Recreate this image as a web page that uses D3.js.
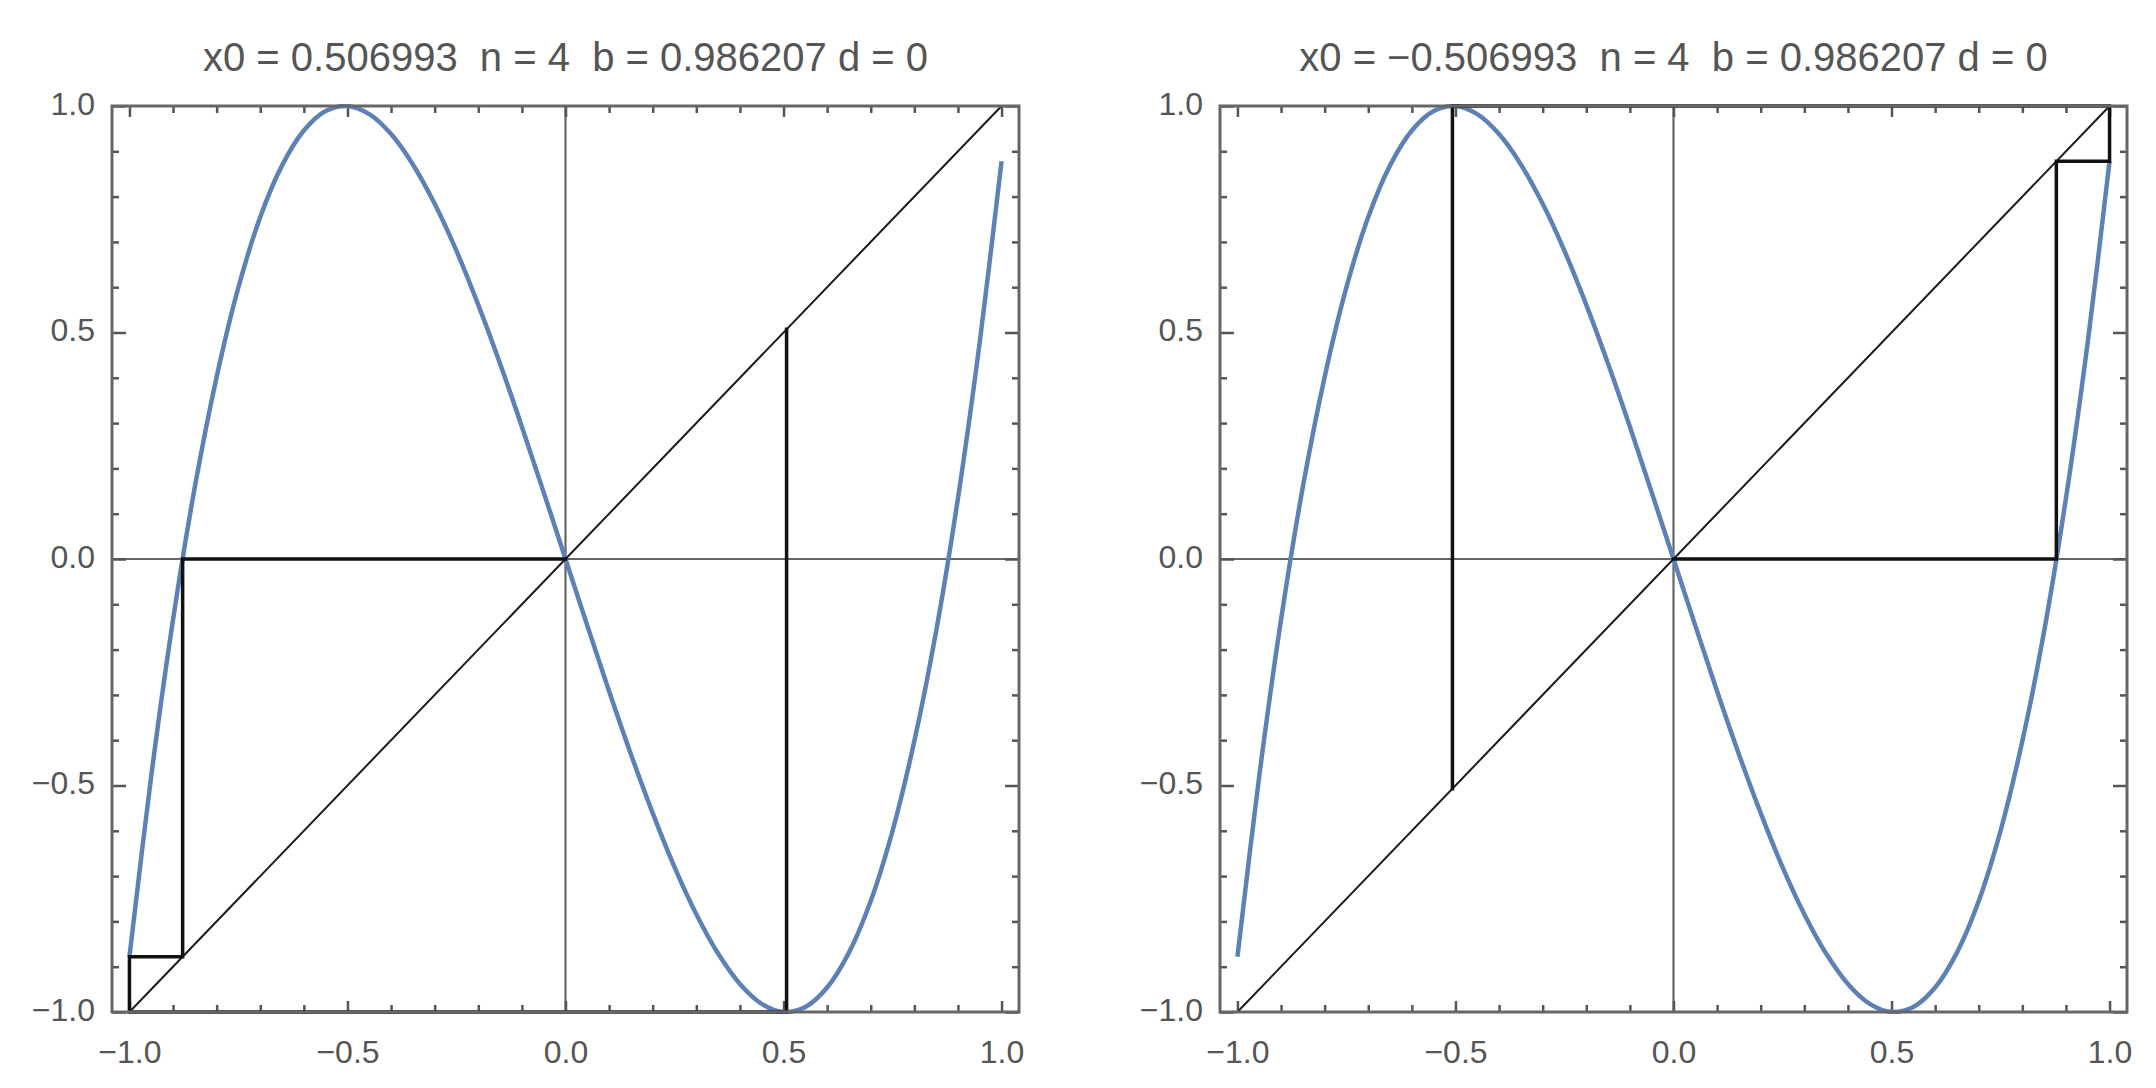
<!DOCTYPE html>
<html>
<head>
<meta charset="utf-8">
<script src="https://cdn.jsdelivr.net/npm/d3@7"></script>
<style>
  html, body { margin: 0; padding: 0; background: #fff; }
  svg { display: block; }
</style>
</head>
<body>
<svg id="chart" width="2156" height="1088"></svg>
<script>
// ---- data ----
const titles = [
  "x0 = 0.506993  n = 4  b = 0.986207 d = 0",
  "x0 = \u22120.506993  n = 4  b = 0.986207 d = 0"
];
const curveX = [-1, -0.95, -0.9, -0.85, -0.8, -0.75, -0.7, -0.65, -0.6, -0.55, -0.5,
  -0.45, -0.4, -0.35, -0.3, -0.25, -0.2, -0.15, -0.1, -0.05, 0,
  0.05, 0.1, 0.15, 0.2, 0.25, 0.3, 0.35, 0.4, 0.45, 0.5,
  0.55, 0.6, 0.65, 0.7, 0.75, 0.8, 0.85, 0.9, 0.95, 1];
const curveY = [-0.878, -0.479, -0.134, 0.159, 0.402, 0.600, 0.755, 0.869, 0.946, 0.989, 1.000,
  0.982, 0.938, 0.871, 0.784, 0.680, 0.561, 0.431, 0.292, 0.147, 0,
  -0.147, -0.292, -0.431, -0.561, -0.680, -0.784, -0.871, -0.938, -0.982, -1.000,
  -0.989, -0.946, -0.869, -0.755, -0.600, -0.402, -0.159, 0.134, 0.479, 0.878];
const diagonalX = [-1, 1];
const orbitLeft = [0.506993, -1.0, -0.878, 0.0];
const orbitRight = [-0.506993, 1.0, 0.878, 0.0];
const majorTicks = [-1, -0.5, 0, 0.5, 1];
const majorLabels = ["\u22121.0", "\u22120.5", "0.0", "0.5", "1.0"];
const minorTicks = [-0.9, -0.8, -0.7, -0.6, -0.4, -0.3, -0.2, -0.1,
  0.1, 0.2, 0.3, 0.4, 0.6, 0.7, 0.8, 0.9];

// ---- layout ----
const panelLefts = [112, 1220];
const panelTop = 106;
const panelW = 907;
const panelH = 906;
const font = "'Liberation Sans', Arial, sans-serif";
const textColor = "#555";

const svg = d3.select("#chart");
const curvePts = curveX.map((x, i) => [x, curveY[i]]);
const orbits = [orbitLeft, orbitRight];

function cobweb(orbit) {
  const pts = [[orbit[0], orbit[0]]];
  for (let i = 0; i < orbit.length - 1; i++) {
    pts.push([orbit[i], orbit[i + 1]]);
    pts.push([orbit[i + 1], orbit[i + 1]]);
  }
  return pts;
}

panelLefts.forEach((left, p) => {
  const x = d3.scaleLinear().domain([-1.04, 1.04]).range([0, panelW]);
  const y = d3.scaleLinear().domain([-1, 1]).range([panelH, 0]);
  const g = svg.append("g").attr("transform", `translate(${left},${panelTop})`);

  const clipId = "clip" + p;
  g.append("clipPath").attr("id", clipId)
    .append("rect").attr("x", 0).attr("y", -2).attr("width", panelW).attr("height", panelH + 4);

  // title
  svg.append("text")
    .attr("x", left + panelW / 2).attr("y", 71)
    .attr("text-anchor", "middle")
    .style("white-space", "pre")
    .attr("font-family", font).attr("font-size", 40)
    .attr("fill", textColor)
    .text(titles[p]);

  // axes through zero
  g.append("line").attr("x1", 0).attr("x2", panelW).attr("y1", y(0)).attr("y2", y(0))
    .attr("stroke", "#666").attr("stroke-width", 2.2);
  g.append("line").attr("x1", x(0)).attr("x2", x(0)).attr("y1", 0).attr("y2", panelH)
    .attr("stroke", "#666").attr("stroke-width", 2.2);

  // frame ticks via d3 axes
  const tickStyle = sel => {
    sel.select(".domain").remove();
    sel.selectAll(".tick line").attr("stroke", "#555").attr("stroke-width", 2.5);
    sel.selectAll(".tick text").attr("fill", textColor).attr("font-family", font).attr("font-size", 32);
  };
  // bottom major
  g.append("g").attr("transform", `translate(0,${panelH})`)
    .call(d3.axisTop(x).tickValues(majorTicks).tickSize(11).tickFormat(() => ""))
    .call(tickStyle);
  g.append("g").attr("transform", `translate(0,${panelH})`)
    .call(d3.axisTop(x).tickValues(minorTicks).tickSize(7).tickFormat(() => ""))
    .call(tickStyle);
  // bottom labels
  g.append("g").attr("transform", `translate(0,${panelH})`)
    .call(d3.axisBottom(x).tickValues(majorTicks).tickSize(0).tickPadding(28)
      .tickFormat((d, i) => majorLabels[i]))
    .call(tickStyle);
  // top
  g.append("g")
    .call(d3.axisBottom(x).tickValues(majorTicks).tickSize(11).tickFormat(() => ""))
    .call(tickStyle);
  g.append("g")
    .call(d3.axisBottom(x).tickValues(minorTicks).tickSize(7).tickFormat(() => ""))
    .call(tickStyle);
  // left
  g.append("g")
    .call(d3.axisRight(y).tickValues(majorTicks).tickSize(14).tickFormat(() => ""))
    .call(tickStyle);
  g.append("g")
    .call(d3.axisRight(y).tickValues(minorTicks).tickSize(7).tickFormat(() => ""))
    .call(tickStyle);
  g.append("g")
    .call(d3.axisLeft(y).tickValues(majorTicks).tickSize(0).tickPadding(17)
      .tickFormat((d, i) => majorLabels[i]))
    .call(tickStyle)
    .selectAll(".tick text").attr("dy", "0.26em");
  // right
  g.append("g").attr("transform", `translate(${panelW},0)`)
    .call(d3.axisLeft(y).tickValues(majorTicks).tickSize(14).tickFormat(() => ""))
    .call(tickStyle);
  g.append("g").attr("transform", `translate(${panelW},0)`)
    .call(d3.axisLeft(y).tickValues(minorTicks).tickSize(7).tickFormat(() => ""))
    .call(tickStyle);

  const plot = g.append("g").attr("clip-path", `url(#${clipId})`);

  // blue curve
  plot.append("path")
    .datum(curvePts)
    .attr("d", d3.line().x(d => x(d[0])).y(d => y(d[1])).curve(d3.curveCatmullRom.alpha(0.5)))
    .attr("fill", "none").attr("stroke", "#5E81B5").attr("stroke-width", 4.5);

  // diagonal
  plot.append("line")
    .attr("x1", x(diagonalX[0])).attr("y1", y(diagonalX[0]))
    .attr("x2", x(diagonalX[1])).attr("y2", y(diagonalX[1]))
    .attr("stroke", "#1a1a1a").attr("stroke-width", 2);

  // cobweb
  g.append("path")
    .datum(cobweb(orbits[p]))
    .attr("d", d3.line().x(d => x(d[0])).y(d => y(d[1])))
    .attr("fill", "none").attr("stroke", "#111").attr("stroke-width", 3.5)
    .attr("stroke-linejoin", "miter").attr("stroke-linecap", "square");

  // frame
  g.append("rect").attr("x", 0).attr("y", 0).attr("width", panelW).attr("height", panelH)
    .attr("fill", "none").attr("stroke", "#666").attr("stroke-width", 3);
});
</script>
</body>
</html>
